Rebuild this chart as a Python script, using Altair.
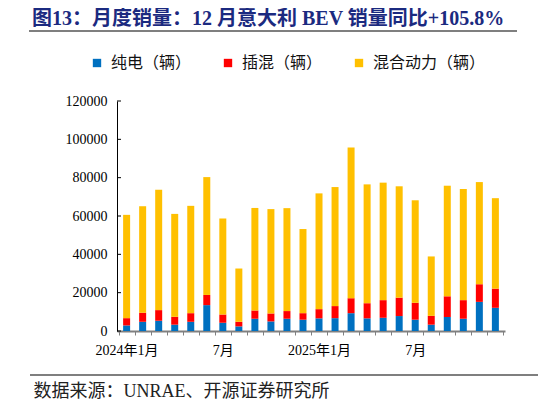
import altair as alt
import pandas as pd

# ---- data ----
months = [f"{y}-{m:02d}" for y in (2024, 2025) for m in range(1, 13)]
tick_labels = {"2024-01": "2024年1月", "2024-07": "7月", "2025-01": "2025年1月", "2025-07": "7月"}
series = ["纯电（辆）", "插混（辆）", "混合动力（辆）"]
colors = ["#0070C0", "#FF0000", "#FFC000"]

bev = [2900, 4800, 5350, 3300, 4800, 13500, 4300, 2400, 6400, 5000, 6400, 5900,
       6600, 6700, 9300, 6600, 6900, 7800, 5900, 3300, 7300, 6400, 15200, 12100]
phev = [3800, 4700, 5550, 4100, 4500, 5300, 4300, 2400, 4300, 4150, 4000, 3400,
        4800, 6300, 7800, 7900, 9200, 9600, 8800, 4600, 10800, 9700, 9200, 10000]
hev = [53900, 55600, 62800, 53700, 56000, 61500, 50100, 27800, 53500, 54450, 53700, 43900,
       60400, 62100, 78700, 62000, 61300, 58100, 53500, 31000, 57700, 58000, 53300, 47200]
y_ticks = [0, 20000, 40000, 60000, 80000, 100000, 120000]

title_text = "图13：月度销量：12 月意大利 BEV 销量同比+105.8%"
source_text = "数据来源：UNRAE、开源证券研究所"

rows = []
for i, m in enumerate(months):
    for k, (s, vals) in enumerate(zip(series, (bev, phev, hev))):
        rows.append({"m": m, "s": s, "v": vals[i], "o": k})
df = pd.DataFrame(rows)

W, H = 388, 230
serif = "Liberation Serif, Noto Sans CJK SC"
cjk = "Noto Sans CJK SC"

label_expr = " : ".join(f"datum.value == '{k}' ? '{v}'" for k, v in tick_labels.items()) + " : ''"

y_axis = alt.Axis(title=None, values=y_ticks, format="d", ticks=False,
                  labelFont=serif, labelFontSize=14, labelColor="#000",
                  labelPadding=10, domainColor="#000", grid=False,
                  labelOverlap=False, labelBound=False, labelFlush=False)
y_scale = alt.Scale(domain=[0, 120000], nice=False)

x_axis = alt.Axis(title=source_text, titleX=-84, titleY=60, titleAlign="left",
                  titleBaseline="middle", titleFont=serif, titleFontSize=18,
                  titleFontWeight="normal", titleColor="#222",
                  labelExpr=label_expr, labelAngle=0,
                  labelFont=serif, labelFontSize=14, labelColor="#000",
                  labelPadding=8, tickBand="extent", tickSize=4,
                  tickColor="#808080", domainColor="#808080",
                  domainWidth=2, labelOverlap=False)

bars = alt.Chart(df).mark_bar(size=7).encode(
    x=alt.X("m:N", sort=months,
            scale=alt.Scale(paddingInner=0, paddingOuter=0.1),
            axis=x_axis),
    y=alt.Y("v:Q", stack="zero", scale=y_scale, axis=y_axis),
    color=alt.Color("s:N", scale=alt.Scale(domain=series, range=colors),
                    legend=alt.Legend(title=None, orient="none", direction="horizontal",
                                      legendX=-28, legendY=-46, symbolType="square",
                                      symbolSize=70, symbolStrokeWidth=0,
                                      labelFont=cjk, labelFontSize=16,
                                      labelColor="#111", labelOffset=6,
                                      columnPadding=28, padding=0)),
    order=alt.Order("o:Q"),
)

yt = alt.Chart(pd.DataFrame({"t": y_ticks})).mark_rule(color="#000", strokeWidth=1).encode(
    y=alt.Y("t:Q", scale=y_scale, axis=y_axis), x=alt.value(0), x2=alt.value(4)
)

title = alt.Chart(pd.DataFrame({"t": [title_text]})).mark_text(
    align="left", baseline="middle", font=serif, fontSize=20, fontWeight="bold",
    color="#1B2A80"
).encode(x=alt.value(-85), y=alt.value(-82), text="t:N")

title_line = alt.Chart(pd.DataFrame({"a": [0]})).mark_rule(color="#555", strokeWidth=1.5).encode(
    x=alt.value(-88), x2=alt.value(400), y=alt.value(-70)
)

foot_line = alt.Chart(pd.DataFrame({"a": [0]})).mark_rule(color="#000", strokeWidth=1.2).encode(
    x=alt.value(-87), x2=alt.value(425), y=alt.value(274)
)

chart = alt.layer(bars, yt, title, title_line, foot_line).properties(
    width=W, height=H,
    autosize=alt.AutoSizeParams(type="none"),
    padding={"left": 109, "top": 93, "right": 33, "bottom": 74},
).configure_view(stroke=None)

chart.save("out.html", embed_options={"renderer": "svg", "actions": False})
